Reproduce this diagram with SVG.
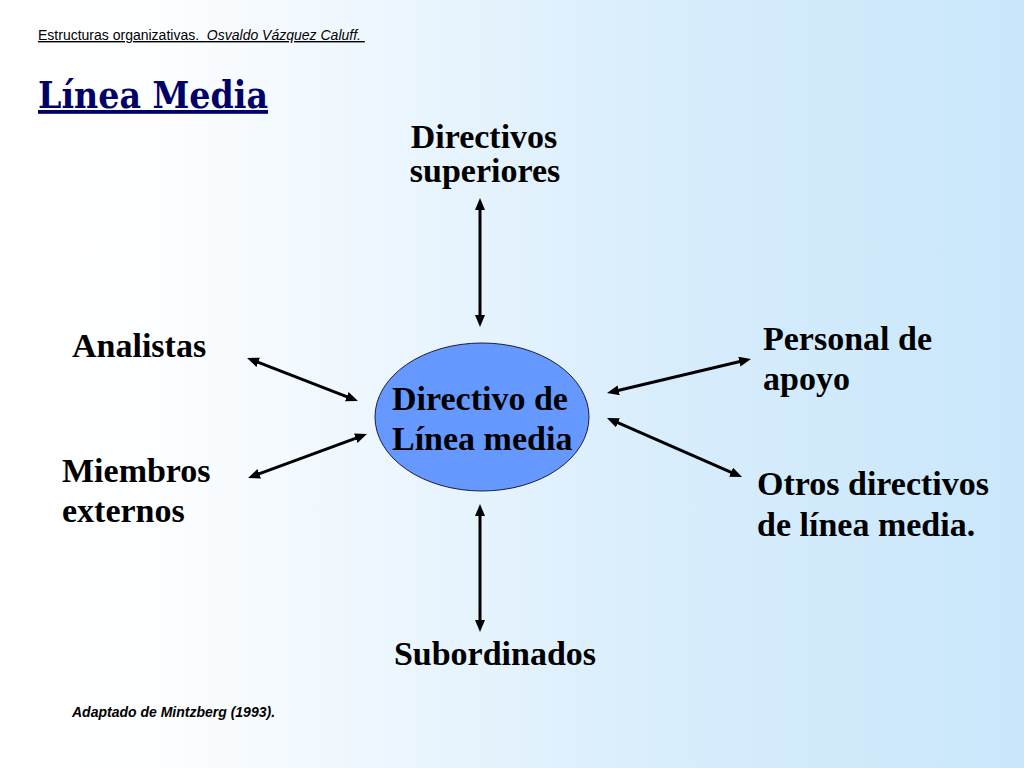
<svg xmlns="http://www.w3.org/2000/svg" width="1024" height="768" viewBox="0 0 1024 768">
  <defs>
    <linearGradient id="bg" x1="0" y1="0" x2="1" y2="0">
      <stop offset="0" stop-color="#ffffff"/>
      <stop offset="0.15" stop-color="#fdfeff"/>
      <stop offset="0.65" stop-color="#d8edfc"/>
      <stop offset="1" stop-color="#c9e7fb"/>
    </linearGradient>
    <marker id="ah" markerUnits="userSpaceOnUse" markerWidth="12" markerHeight="10" viewBox="0 0 12 10" refX="4" refY="5" orient="auto-start-reverse">
      <path d="M0,0 L12,5 L0,10 z" fill="#000"/>
    </marker>
  </defs>
  <style>
    .lbl { font-family: "Liberation Serif", "Times New Roman", serif; font-weight: bold; font-size: 34px; fill: #000; }
    .conn line { stroke: #000; stroke-width: 3; marker-start: url(#ah); marker-end: url(#ah); }
  </style>
  <rect x="0" y="0" width="1024" height="768" fill="url(#bg)"/>

  <g id="header">
    <text x="38" y="40" xml:space="preserve" font-family="Liberation Sans, Arial, sans-serif" font-size="14" fill="#000" text-decoration="underline">Estructuras organizativas.  <tspan font-style="italic">Osvaldo Vázquez Caluff. </tspan></text>
  </g>
  <g id="title">
    <text x="38" y="108" font-family="DejaVu Serif, serif" font-weight="bold" font-size="38" fill="#000066" text-decoration="underline" textLength="230" lengthAdjust="spacingAndGlyphs">Línea Media</text>
  </g>

  <g class="conn" id="connectors">
    <line x1="480" y1="206" x2="480" y2="319"/>
    <line x1="480" y1="512" x2="480" y2="624"/>
    <line x1="254.5" y1="360.9" x2="350.5" y2="398.1"/>
    <line x1="255.5" y1="475.2" x2="359.5" y2="436.8"/>
    <line x1="614.8" y1="391.2" x2="743.2" y2="360.8"/>
    <line x1="614.3" y1="421.2" x2="734.7" y2="473.8"/>
  </g>

  <g id="n-center">
    <ellipse cx="482" cy="417" rx="107" ry="74" fill="#6699ff" stroke="#1a1a40" stroke-width="1"/>
    <text class="lbl" x="392" y="410">Directivo de</text>
    <text class="lbl" x="392" y="450">Línea media</text>
  </g>
  <g id="n-superiores">
    <text class="lbl" x="484" y="148" text-anchor="middle">Directivos</text>
    <text class="lbl" x="485" y="182" text-anchor="middle">superiores</text>
  </g>
  <g id="n-analistas">
    <text class="lbl" x="72" y="357">Analistas</text>
  </g>
  <g id="n-miembros">
    <text class="lbl" x="62" y="482">Miembros</text>
    <text class="lbl" x="62" y="522">externos</text>
  </g>
  <g id="n-personal">
    <text class="lbl" x="763" y="350">Personal de</text>
    <text class="lbl" x="763" y="390">apoyo</text>
  </g>
  <g id="n-otros">
    <text class="lbl" x="757" y="495">Otros directivos</text>
    <text class="lbl" x="757" y="536">de línea media.</text>
  </g>
  <g id="n-subordinados">
    <text class="lbl" x="495" y="665" text-anchor="middle">Subordinados</text>
  </g>

  <g id="footer">
    <text x="72" y="717" font-family="Liberation Sans, Arial, sans-serif" font-size="14" font-weight="bold" font-style="italic" fill="#000">Adaptado de Mintzberg (1993).</text>
  </g>
</svg>
